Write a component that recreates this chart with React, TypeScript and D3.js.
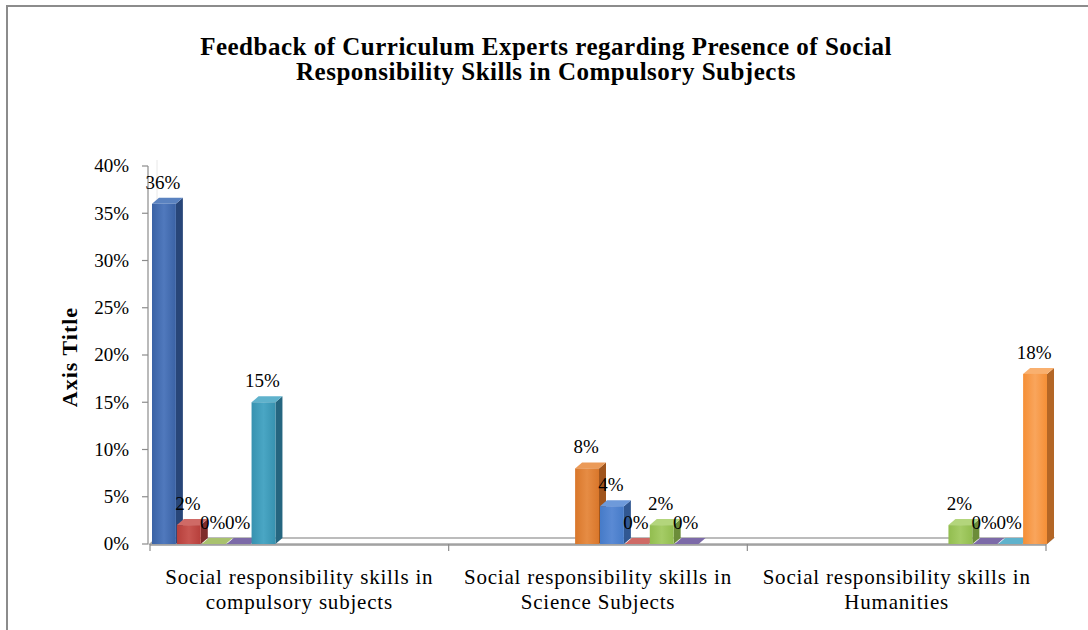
import React from "react";
import * as d3 from "d3";

const categories = [
  ["Social responsibility skills in", "compulsory subjects"],
  ["Social responsibility skills in", "Science Subjects"],
  ["Social responsibility skills in", "Humanities"],
];
const seriesNames = [
  "Series 1", "Series 2", "Series 3", "Series 4", "Series 5", "Series 6",
  "Series 7", "Series 8", "Series 9", "Series 10", "Series 11", "Series 12",
];
// values per series, one per category (null = no bar)
const series1 = [0.36, null, null];
const series2 = [0.02, null, null];
const series3 = [0.0, null, null];
const series4 = [0.0, null, null];
const series5 = [0.15, null, null];
const series6 = [null, 0.08, null];
const series7 = [null, 0.04, null];
const series8 = [null, 0.0, null];
const series9 = [null, 0.02, 0.02];
const series10 = [null, 0.0, 0.0];
const series11 = [null, null, 0.0];
const series12 = [null, null, 0.18];
const seriesValues = [
  series1, series2, series3, series4, series5, series6,
  series7, series8, series9, series10, series11, series12,
];
const yTicks = [0, 0.05, 0.1, 0.15, 0.2, 0.25, 0.3, 0.35, 0.4];

// styles
const palette = [
  { front: "#3a62a5", side: "#284679", top: "#5a82c0", hi: "#5079bd" },
  { front: "#b63f3b", side: "#7e2d2a", top: "#cf6a66", hi: "#c85651" },
  { front: "#86a24a", side: "#5f7534", top: "#a9c26e", hi: "#9cb862" },
  { front: "#56458a", side: "#3c3066", top: "#7c6aa8", hi: "#6a5a9c" },
  { front: "#3792b0", side: "#256680", top: "#5fb2cc", hi: "#4aa6c4" },
  { front: "#d9772b", side: "#a0551d", top: "#eb9a58", hi: "#e68c44" },
  { front: "#467bc8", side: "#315892", top: "#6e9ada", hi: "#5a8ad4" },
  { front: "#b63f3b", side: "#7e2d2a", top: "#cf6a66", hi: "#c85651" },
  { front: "#92bd4f", side: "#6c8d39", top: "#b3d57c", hi: "#a5cc66" },
  { front: "#56458a", side: "#3c3066", top: "#7c6aa8", hi: "#6a5a9c" },
  { front: "#3792b0", side: "#256680", top: "#5fb2cc", hi: "#4aa6c4" },
  { front: "#f58f36", side: "#b36626", top: "#f9b06f", hi: "#f9a55c" },
];

const W = 1088;
const H = 630;
const serif = "'Liberation Serif', serif";

export default function App() {
  const x0 = 150;
  const x1 = 1046;
  const yBase = 544;
  const yTop = 166;
  const dx = 7;
  const dy = -6;

  const xCat = d3.scaleBand<number>().domain(d3.range(categories.length)).range([x0, x1]).padding(0);
  const xSer = d3.scaleBand<number>().domain(d3.range(seriesNames.length)).range([0, xCat.bandwidth()]).padding(0);
  const y = d3.scaleLinear().domain([0, 0.4]).range([yBase, yTop]);
  const fmt = d3.format(".0%");
  const frontW = xSer.bandwidth() - 1;

  const bars: any[] = [];
  categories.forEach((_, ci) => {
    seriesValues.forEach((vals, si) => {
      const v = vals[ci];
      if (v === null || v === undefined) return;
      bars.push({ ci, si, v });
    });
  });

  const txt = { fontFamily: serif, fill: "#000" } as any;

  return (
    <svg width={W} height={H} style={{ position: "absolute", left: 0, top: 0, background: "#fff", fontFamily: serif }}>
      <defs>
        {palette.map((c, i) => (
          <linearGradient key={i} id={`g${i}`} x1="0" x2="1" y1="0" y2="0">
            <stop offset="0" stopColor={c.front} />
            <stop offset="0.5" stopColor={c.hi} />
            <stop offset="1" stopColor={c.front} />
          </linearGradient>
        ))}
      </defs>
      <rect x={0} y={0} width={W} height={H} fill="#fff" />
      {/* chart border */}
      <path d={`M7,${H} L7,6 L${W},6`} fill="none" stroke="#8c8c8c" strokeWidth={2} />

      {/* title */}
      <text x={546} y={55} textAnchor="middle" fontSize={25} fontWeight="bold" letterSpacing={0.5} style={txt}>
        Feedback of Curriculum Experts regarding Presence of Social
      </text>
      <text x={546} y={80} textAnchor="middle" fontSize={25} fontWeight="bold" letterSpacing={0.5} style={txt}>
        Responsibility Skills in Compulsory Subjects
      </text>

      {/* floor */}
      <polygon
        points={`${x0},${yBase} ${x1},${yBase} ${x1 + dx},${yBase + dy} ${x0 + dx},${yBase + dy}`}
        fill="#fff" stroke="#a6a6a6" strokeWidth={1.5} />
      <line x1={x0} x2={x1} y1={yBase + 1} y2={yBase + 1} stroke="#9a9a9a" strokeWidth={1.5} />
      {/* back wall edge */}
      <line x1={x0 + dx} x2={x0 + dx} y1={yBase + dy} y2={yTop + dy} stroke="#e8e8e8" strokeWidth={1} />

      {/* y axis */}
      <line x1={x0 - 2} x2={x0 - 2} y1={yTop} y2={yBase} stroke="#8c8c8c" strokeWidth={1.2} />
      {yTicks.map((t) => (
        <g key={t}>
          <line x1={x0 - 8} x2={x0 - 2} y1={y(t)} y2={y(t)} stroke="#8c8c8c" strokeWidth={1.2} />
          <text x={129} y={y(t)} dy="0.33em" textAnchor="end" fontSize={19} style={txt}>
            {fmt(t)}
          </text>
        </g>
      ))}
      <text transform={`translate(77,357) rotate(-90)`} textAnchor="middle" fontSize={22}
        fontWeight="bold" letterSpacing={1} style={txt}>Axis Title</text>

      {/* x axis ticks */}
      {d3.range(categories.length + 1).map((i) => {
        const xx = i < categories.length ? xCat(i)! : x1;
        return <line key={i} x1={xx} x2={xx} y1={yBase} y2={yBase + 7} stroke="#8c8c8c" strokeWidth={1.2} />;
      })}
      {categories.map((lines, ci) => (
        <text key={ci} x={xCat(ci)! + xCat.bandwidth() / 2} textAnchor="middle" fontSize={21}
          letterSpacing={0.8} style={txt}>
          {lines.map((l, li) => (
            <tspan key={li} x={xCat(ci)! + xCat.bandwidth() / 2} y={584 + li * 25}>{l}</tspan>
          ))}
        </text>
      ))}

      {/* bars */}
      {bars.map((b, i) => {
        const c = palette[b.si];
        const bx = xCat(b.ci)! + xSer(b.si)! + 2;
        const by = y(b.v);
        const h = yBase - by;
        return (
          <g key={i}>
            <polygon
              points={`${bx + frontW},${yBase} ${bx + frontW + dx},${yBase + dy} ${bx + frontW + dx},${by + dy} ${bx + frontW},${by}`}
              fill={c.side} />
            <polygon
              points={`${bx},${by} ${bx + frontW},${by} ${bx + frontW + dx},${by + dy} ${bx + dx},${by + dy}`}
              fill={c.top} />
            {h > 0 && <rect x={bx} y={by} width={frontW} height={h} fill={`url(#g${b.si})`} />}
          </g>
        );
      })}
      {/* data labels */}
      {bars.map((b, i) => {
        const bx = xCat(b.ci)! + xSer(b.si)! + 2;
        return (
          <text key={i} x={bx + frontW / 2 - 1} y={y(b.v) - 15} textAnchor="middle" fontSize={19} style={txt}>
            {fmt(b.v)}
          </text>
        );
      })}
    </svg>
  );
}
